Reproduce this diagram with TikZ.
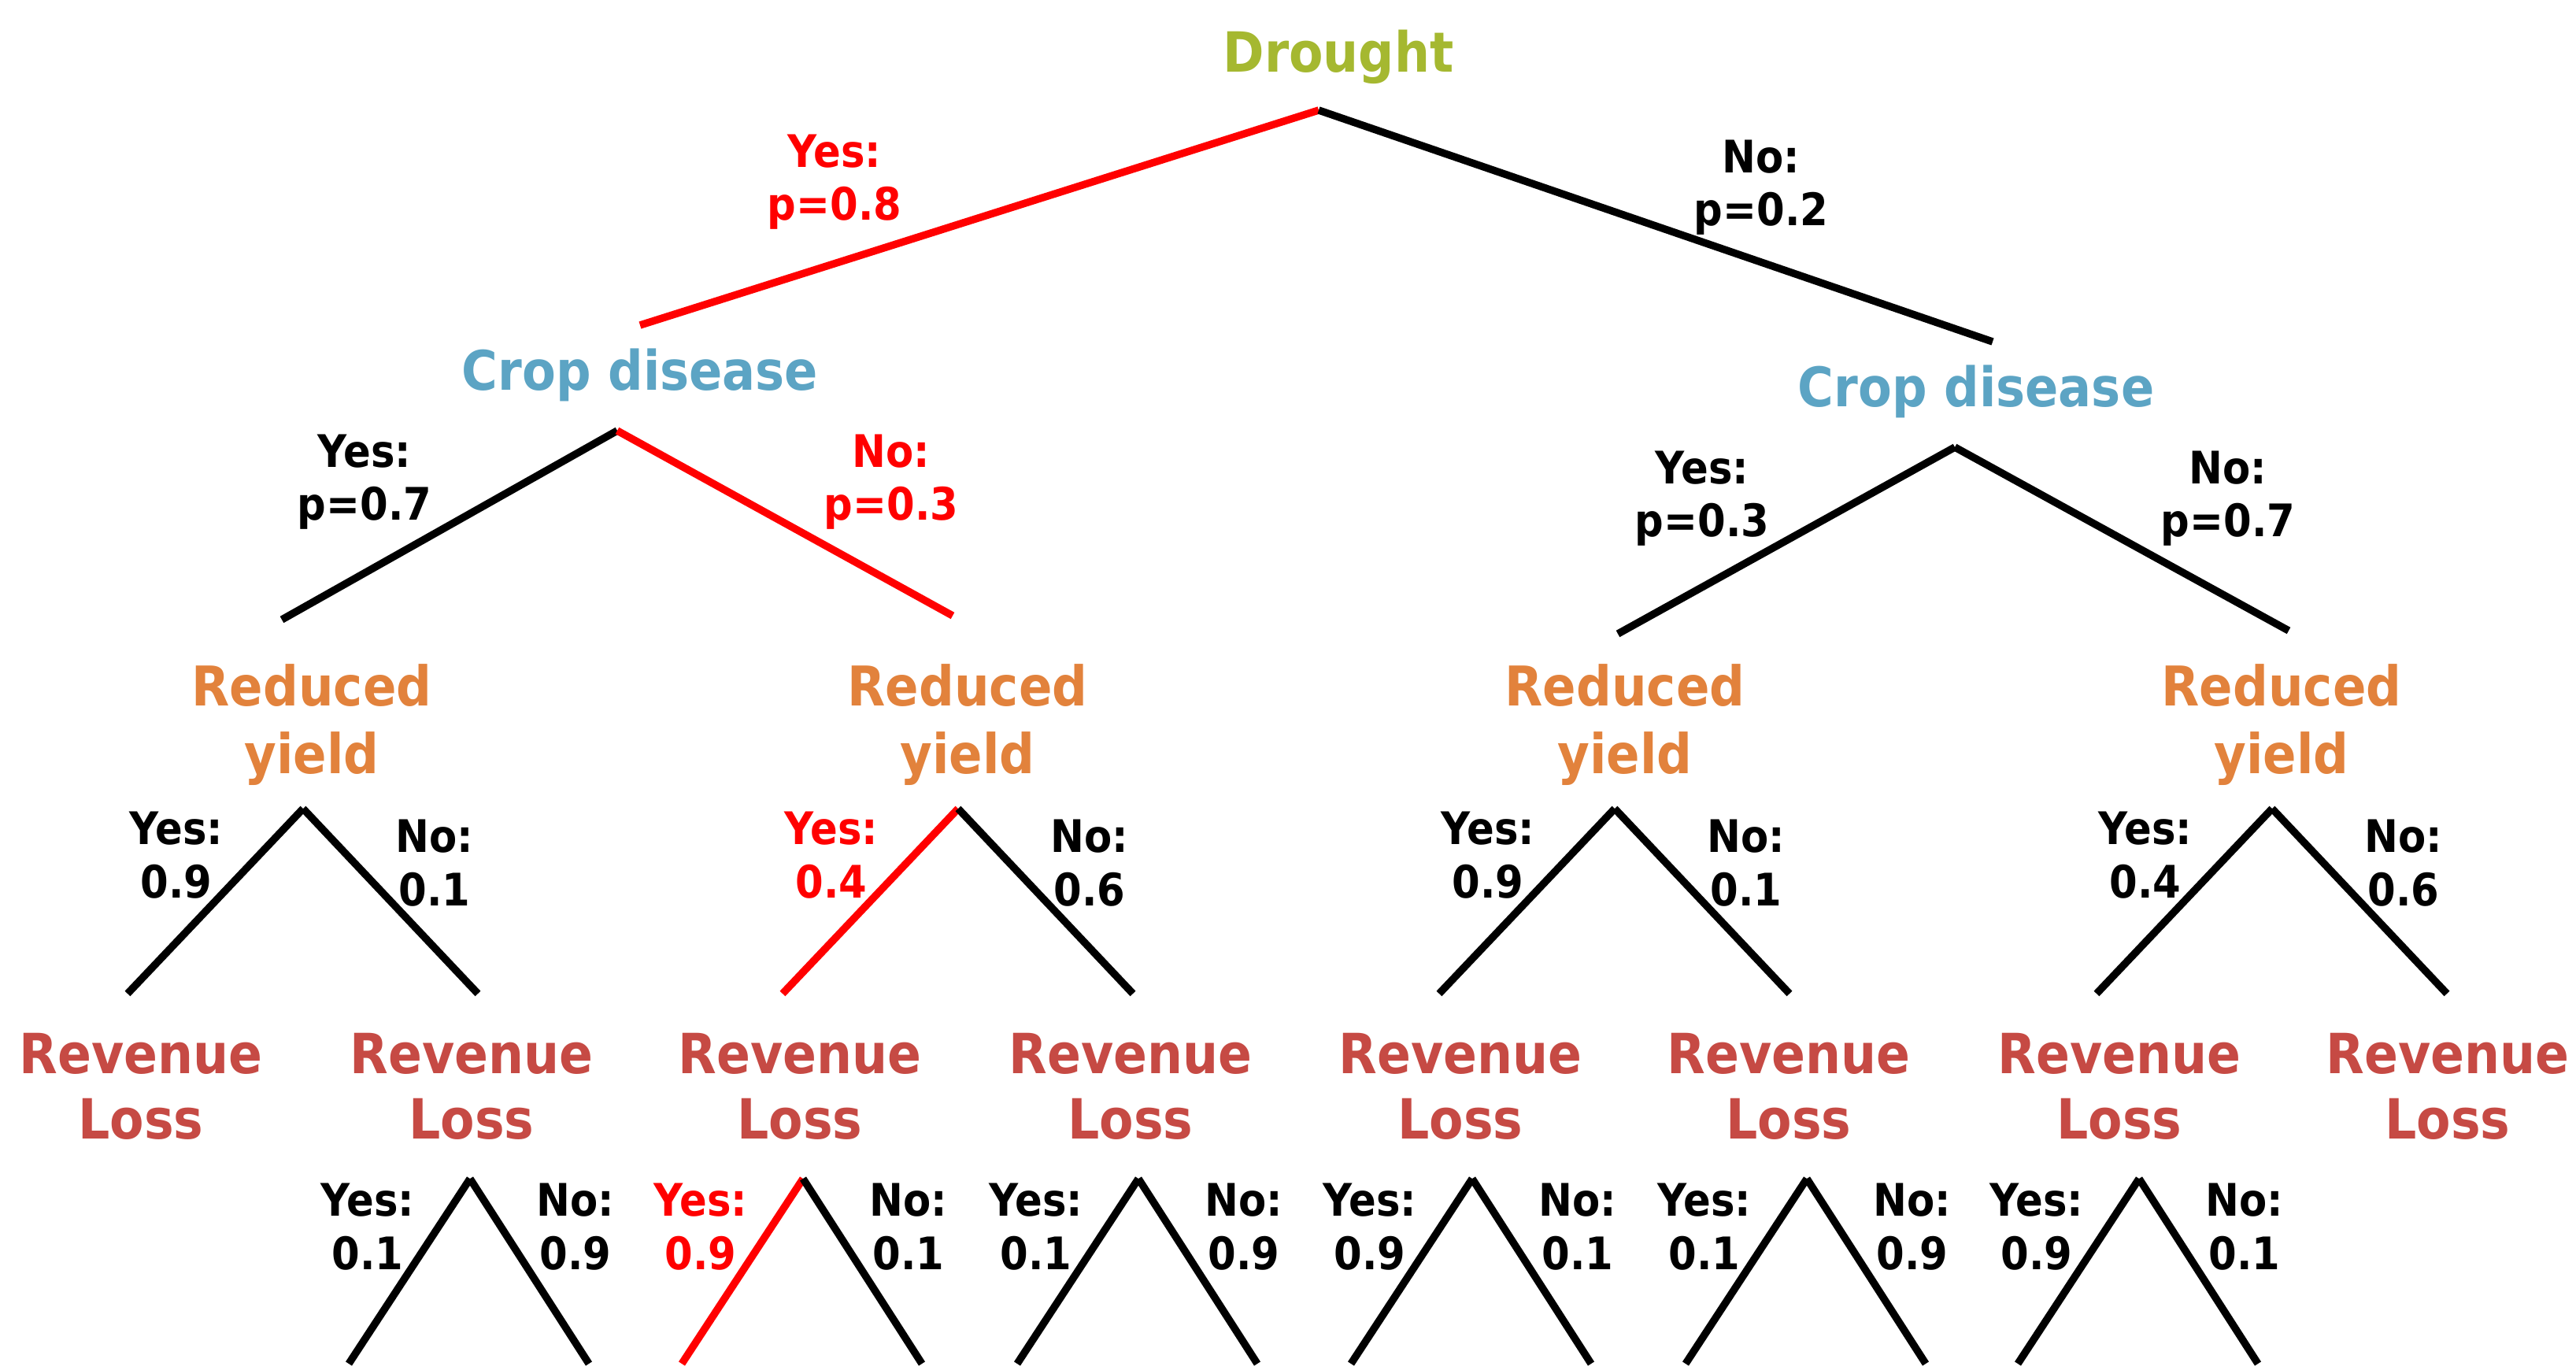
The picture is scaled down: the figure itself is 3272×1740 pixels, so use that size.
\documentclass[tikz,border=0pt]{standalone}
\usepackage{fontspec}
\setmainfont{DejaVu Sans}[FakeStretch=0.9]
\definecolor{cdrought}{RGB}{165,184,48}
\definecolor{ccrop}{RGB}{92,164,196}
\definecolor{cyield}{RGB}{226,130,60}
\definecolor{closs}{RGB}{198,74,68}
\begin{document}
\begin{tikzpicture}[x=0.01cm,y=-0.01cm,
  edge/.style={line width=2.7pt,line cap=butt},
  hot/.style={edge,draw=red},
  cold/.style={edge,draw=black},
  base/.style={inner sep=0pt,outer sep=0pt,anchor=base,align=center},
  droughtn/.style={base,text=cdrought,font=\bfseries\fontsize{20pt}{24pt}\selectfont},
  cropn/.style={base,text=ccrop,font=\bfseries\fontsize{19.7pt}{24pt}\selectfont},
  yieldn/.style={base,text=cyield,font=\bfseries\fontsize{19.8pt}{24.2pt}\selectfont},
  lossn/.style={base,text=closs,font=\bfseries\fontsize{20pt}{23.6pt}\selectfont},
  lab/.style={base,font=\bfseries\fontsize{16.2pt}{19.1pt}\selectfont}]
\path[use as bounding box] (0,0) rectangle (3272,1740);

% --- nodes (multi-line nodes are placed by the baseline of their last line)
\node[droughtn] (drought) at (1700,92) {Drought};
\node[cropn] (cropL) at (813,496) {Crop disease};
\node[cropn] (cropR) at (2510,517) {Crop disease};
\foreach \x/\i in {396/1,1229/2,2064/3,2898/4}
  \node[yieldn] (yield\i) at (\x,982) {Reduced\\yield};
\foreach \x/\i in {179/1,599/2,1016/3,1436/4,1855/5,2272/6,2692/7,3109/8}
  \node[lossn] (loss\i) at (\x,1446) {Revenue\\Loss};

% --- level 1
\coordinate (a0) at (1675,140);
\coordinate (a0l) at (813,413);
\coordinate (a0r) at (2531,434);
\draw[hot] (a0) -- (a0l);
\draw[cold] (a0) -- (a0r);
\node[lab,text=red] (l0y) at (1060,280) {Yes:\\p=0.8};
\node[lab] (l0n) at (2237,287) {No:\\p=0.2};

% --- level 2
\coordinate (aL) at (784,547);
\coordinate (aLl) at (358,787);
\coordinate (aLr) at (1210,782);
\draw[cold] (aL) -- (aLl);
\draw[hot] (aL) -- (aLr);
\node[lab] (lLy) at (463,661) {Yes:\\p=0.7};
\node[lab,text=red] (lLn) at (1132,661) {No:\\p=0.3};

\coordinate (aR) at (2483,568);
\coordinate (aRl) at (2055,805);
\coordinate (aRr) at (2907,801);
\draw[cold] (aR) -- (aRl);
\draw[cold] (aR) -- (aRr);
\node[lab] (lRy) at (2162,682) {Yes:\\p=0.3};
\node[lab] (lRn) at (2830,682) {No:\\p=0.7};

% --- level 3
\foreach \x/\i/\yv/\nv/\c in {385/1/0.9/0.1/black,1217/2/0.4/0.6/red,2051/3/0.9/0.1/black,2886/4/0.4/0.6/black}{
  \coordinate (b\i) at (\x,1027);
  \coordinate (b\i-l) at (\x-223,1262);
  \coordinate (b\i-r) at (\x+222,1262);
  \draw[edge,draw=\c] (b\i) -- (b\i-l);
  \draw[cold] (b\i) -- (b\i-r);
  \node[lab,text=\c] (b\i-y) at (\x-161,1140) {Yes:\\\yv};
  \node[lab] (b\i-n) at (\x+167,1150) {No:\\\nv};
}

% --- level 4
\foreach \x/\i/\yv/\nv/\c in {597/1/0.1/0.9/black,1020/2/0.9/0.1/red,1446/3/0.1/0.9/black,1870/4/0.9/0.1/black,2295/5/0.1/0.9/black,2717/6/0.9/0.1/black}{
  \coordinate (c\i) at (\x,1497);
  \coordinate (c\i-l) at (\x-154,1732);
  \coordinate (c\i-r) at (\x+151,1732);
  \draw[edge,draw=\c] (c\i) -- (c\i-l);
  \draw[cold] (c\i) -- (c\i-r);
  \node[lab,text=\c] (c\i-y) at (\x-130,1612) {Yes:\\\yv};
  \node[lab] (c\i-n) at (\x+134,1612) {No:\\\nv};
}
\end{tikzpicture}
\end{document}
